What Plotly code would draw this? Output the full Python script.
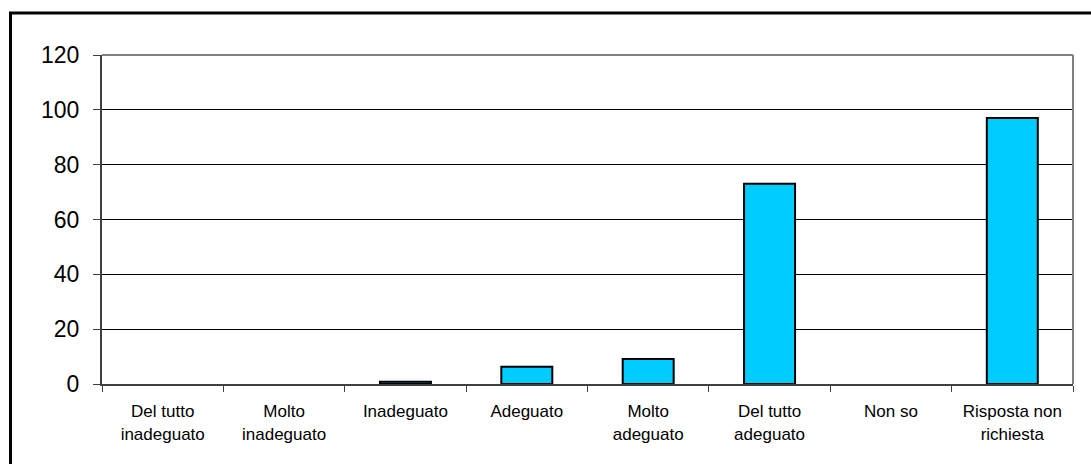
import plotly.graph_objects as go

categories = ["Del tutto<br>inadeguato", "Molto<br>inadeguato", "Inadeguato", "Adeguato",
              "Molto<br>adeguato", "Del tutto<br>adeguato", "Non so", "Risposta non<br>richiesta"]
values = [0, 0, 0.8, 6.3, 9.1, 73, 0, 97]
y_ticks = [0, 20, 40, 60, 80, 100, 120]

W, H = 1091, 464
L, R, T, B = 102, 1073, 55, 384

fig = go.Figure()
fig.add_trace(go.Bar(
    x=categories, y=values,
    marker=dict(color="#00CCFF",
                line=dict(color="#000000", width=[2 if v > 0 else 0 for v in values])),
    hoverinfo="x+y",
))

def px_x(p):
    return (p - L) / (R - L)

def px_y(p):
    return (B - p) / (B - T)

fig.update_layout(
    width=W, height=H,
    margin=dict(l=L, r=W - R, t=T, b=H - B, pad=0, autoexpand=False),
    paper_bgcolor="white", plot_bgcolor="white",
    bargap=0.58,
    showlegend=False,
    font=dict(family="Liberation Sans, Arial, sans-serif", color="#000000"),
    xaxis=dict(
        type="category",
        showgrid=False,
        showline=True, linecolor="#404040", linewidth=2,
        ticks="outside", ticklen=6, tickcolor="#404040", tickwidth=1,
        tickson="boundaries",
        tickfont=dict(size=17),
        ticklabelstandoff=11,
        tickangle=0,
        zeroline=False,
    ),
    yaxis=dict(
        range=[0, 120],
        tickvals=y_ticks,
        showgrid=True, gridcolor="#000000", gridwidth=1,
        showline=True, linecolor="#404040", linewidth=2,
        ticks="outside", ticklen=7, tickcolor="#404040", tickwidth=1,
        tickfont=dict(size=23),
        ticklabelstandoff=9,
        zeroline=False,
    ),
    shapes=[
        dict(type="line", xref="paper", yref="paper", x0=0, x1=1, y0=1, y1=1,
             line=dict(color="#808080", width=2)),
        dict(type="line", xref="paper", yref="paper", x0=1, x1=1, y0=0, y1=1,
             line=dict(color="#808080", width=2)),
        dict(type="rect", xref="paper", yref="paper",
             x0=px_x(10.5), x1=px_x(1110), y0=px_y(13), y1=px_y(490),
             line=dict(color="#000000", width=3), fillcolor="rgba(0,0,0,0)"),
    ],
)

fig.write_html(
    "out.html",
    config={"displayModeBar": False},
    post_script="document.body.style.margin='0';document.body.style.overflow='hidden';",
)
